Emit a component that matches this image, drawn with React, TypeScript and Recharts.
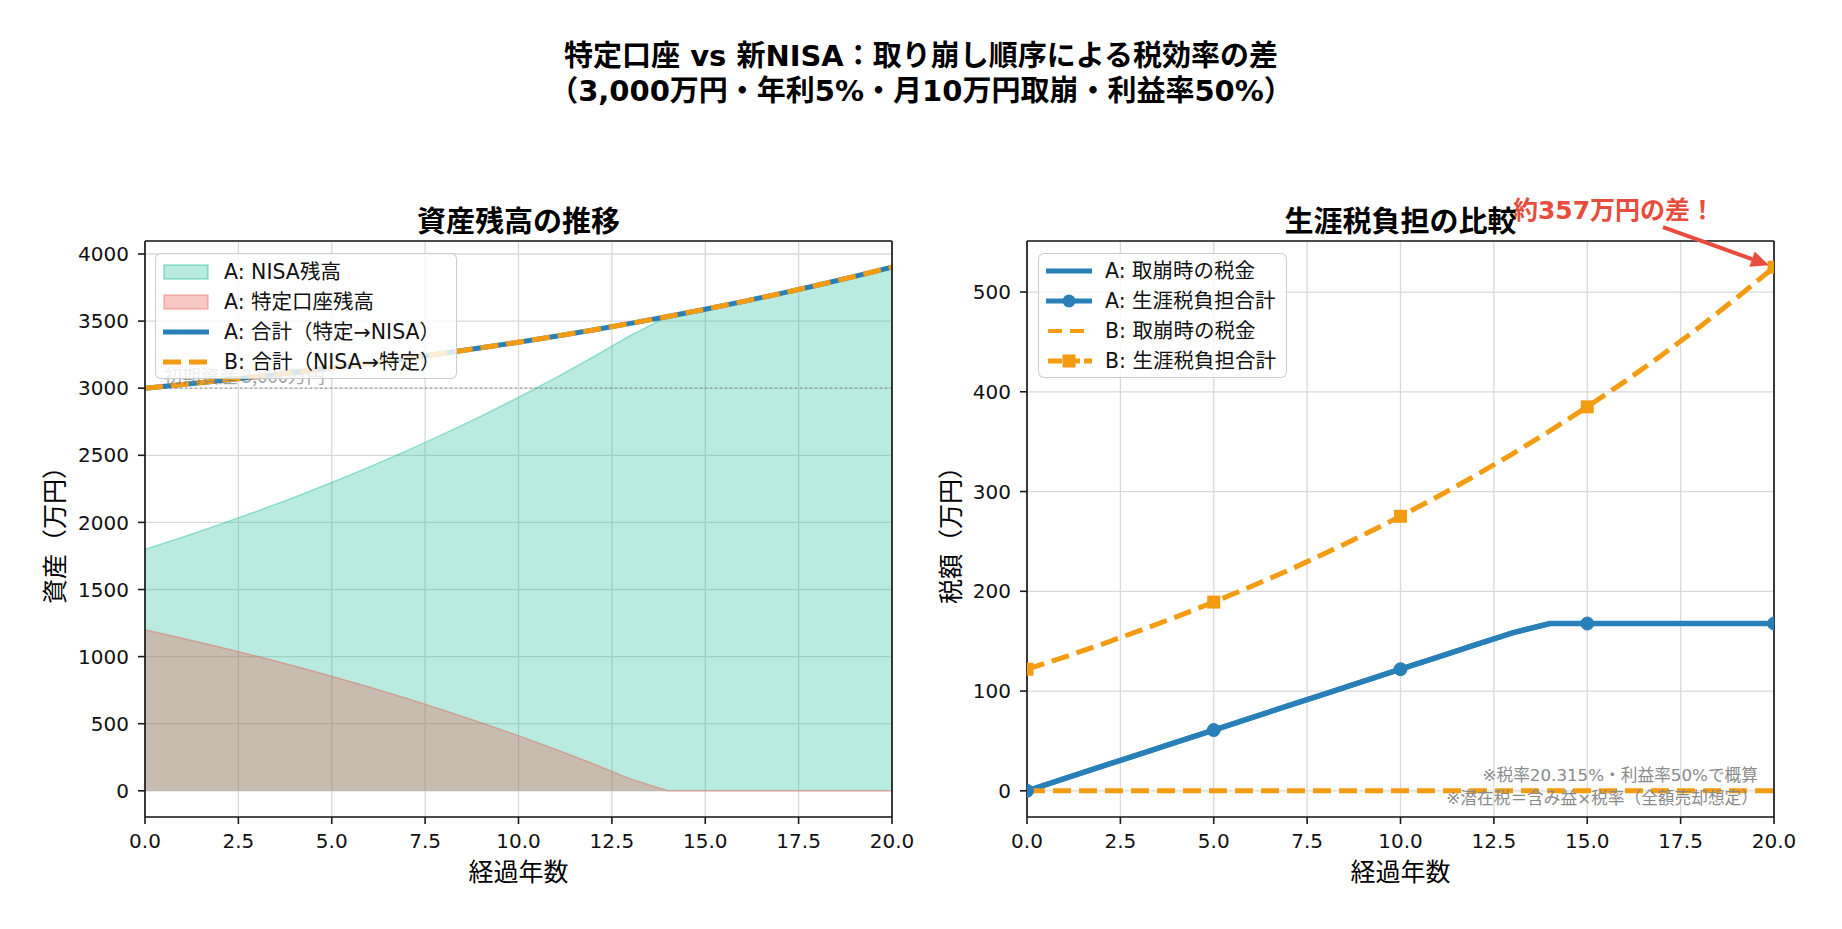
import React from 'react';
import {
  ComposedChart,
  Line,
  Area,
  XAxis,
  YAxis,
  CartesianGrid,
  ReferenceLine,
  ReferenceDot,
} from 'recharts';

// ---------- data ----------
const years = [0, 1, 2, 3, 4, 5, 6, 7, 8, 9, 10, 11, 12, 13, 14, 15, 16, 17, 18, 19, 20];
const totalA = [3000, 3027.3, 3055.9, 3086.0, 3117.5, 3150.7, 3185.5, 3222.0, 3260.4, 3300.7, 3343.0, 3387.4, 3434.1, 3483.0, 3534.4, 3588.4, 3645.2, 3704.7, 3767.2, 3832.8, 3901.7];
const totalB = [3000, 3027.3, 3055.9, 3086.0, 3117.5, 3150.7, 3185.5, 3222.0, 3260.4, 3300.7, 3343.0, 3387.4, 3434.1, 3483.0, 3534.4, 3588.4, 3645.2, 3704.7, 3767.2, 3832.8, 3901.7];
const nisaA = [1800, 1890, 1984.5, 2083.7, 2187.9, 2297.3, 2412.2, 2532.8, 2659.5, 2792.4, 2932.0, 3078.6, 3232.6, 3394.1, 3534.4, 3588.4, 3645.2, 3704.7, 3767.2, 3832.8, 3901.7];
const tokuteiA = [1200, 1137.3, 1071.4, 1002.3, 929.6, 853.3, 773.3, 689.3, 600.9, 508.3, 411.0, 308.9, 201.4, 88.9, 0, 0, 0, 0, 0, 0, 0];
const withdrawTaxA = [0, 12.2, 24.4, 36.6, 48.8, 60.9, 73.1, 85.3, 97.5, 109.7, 121.9, 134.1, 146.3, 158.4, 167.7, 167.7, 167.7, 167.7, 167.7, 167.7, 167.7];
const lifetimeTaxA = [0, 12.2, 24.4, 36.6, 48.8, 60.9, 73.1, 85.3, 97.5, 109.7, 121.9, 134.1, 146.3, 158.4, 167.7, 167.7, 167.7, 167.7, 167.7, 167.7, 167.7];
const withdrawTaxB = [0, 0, 0, 0, 0, 0, 0, 0, 0, 0, 0, 0, 0, 0, 0, 0, 0, 0, 0, 0, 0];
const lifetimeTaxB = [121.9, 134.1, 146.9, 160.3, 174.4, 189.2, 204.8, 221.1, 238.3, 256.3, 275.2, 295.0, 315.9, 337.8, 360.8, 384.9, 410.2, 436.8, 464.8, 494.1, 524.9];

const xTicks = [0, 2.5, 5, 7.5, 10, 12.5, 15, 17.5, 20];
const leftYTicks = [0, 500, 1000, 1500, 2000, 2500, 3000, 3500, 4000];
const rightYTicks = [0, 100, 200, 300, 400, 500];
const leftYDomain = [-195.1, 4096.8];
const rightYDomain = [-26.25, 551.15];
const initialAsset = 3000;
const initialAssetLabel = '初期資産 3,000万円';
const diffLabel = '約357万円の差！';

const titleLines = [
  '特定口座 vs 新NISA：取り崩し順序による税効率の差',
  '（3,000万円・年利5%・月10万円取崩・利益率50%）',
];
const leftTitle = '資産残高の推移';
const rightTitle = '生涯税負担の比較';
const xLabel = '経過年数';
const leftYLabel = '資産（万円）';
const rightYLabel = '税額（万円）';
const leftLegend = ['A: NISA残高', 'A: 特定口座残高', 'A: 合計（特定→NISA）', 'B: 合計（NISA→特定）'];
const rightLegend = ['A: 取崩時の税金', 'A: 生涯税負担合計', 'B: 取崩時の税金', 'B: 生涯税負担合計'];
const notes = ['※税率20.315%・利益率50%で概算', '※潜在税＝含み益×税率（全額売却想定）'];

const leftData = years.map((y, i) => ({
  year: y,
  totalA: totalA[i],
  totalB: totalB[i],
  nisaA: nisaA[i],
  tokuteiA: tokuteiA[i],
}));
const rightData = years.map((y, i) => ({
  year: y,
  withdrawTaxA: withdrawTaxA[i],
  lifetimeTaxA: lifetimeTaxA[i],
  withdrawTaxB: withdrawTaxB[i],
  lifetimeTaxB: lifetimeTaxB[i],
}));

// ---------- styles ----------
const BLUE = '#2980b9';
const ORANGE = '#f39c12';
const TEAL = '#1abc9c';
const RED = '#e74c3c';
const FONT = '"DejaVu Sans", "Noto Sans CJK JP", sans-serif';
const CJK = '"Noto Sans CJK JP", "DejaVu Sans", sans-serif';
const AXIS = '#1a1a1a';
const DASH = '18 8';

const tickStyle = { fontSize: 20, fill: '#111', fontFamily: FONT };

const circleDot = (props: any) => {
  const { cx, cy, index } = props;
  if (years[index] % 5 !== 0) return <g key={`c${index}`} />;
  return <circle key={`c${index}`} cx={cx} cy={cy} r={6.5} fill={BLUE} stroke={BLUE} />;
};
const squareDot = (props: any) => {
  const { cx, cy, index } = props;
  if (years[index] % 5 !== 0) return <g key={`s${index}`} />;
  return <rect key={`s${index}`} x={cx - 6.5} y={cy - 6.5} width={13} height={13} fill={ORANGE} />;
};

const InitialText = (props: any) => {
  const { cx, cy } = props;
  return (
    <text x={cx} y={cy - 5} fontSize={18.5} fill="#808080" fillOpacity={0.75} fontFamily={CJK}>
      {initialAssetLabel}
    </text>
  );
};

const DiffArrow = (props: any) => {
  const { cx, cy } = props;
  const sx = cx - 111;
  const sy = cy - 40;
  const tx = cx - 5;
  const ty = cy - 2;
  const ang = Math.atan2(ty - sy, tx - sx);
  const L = 18;
  const W = 8;
  const bx = tx - L * Math.cos(ang);
  const by = ty - L * Math.sin(ang);
  const px = -Math.sin(ang) * W;
  const py = Math.cos(ang) * W;
  return (
    <g>
      <line x1={sx} y1={sy} x2={bx} y2={by} stroke={RED} strokeWidth={4} />
      <polygon points={`${tx},${ty} ${bx + px},${by + py} ${bx - px},${by - py}`} fill={RED} />
      <text
        x={cx - 160}
        y={cy - 57}
        textAnchor="middle"
        dominantBaseline="central"
        fontSize={25}
        fontWeight="bold"
        fill={RED}
        fontFamily={FONT}
      >
        {diffLabel}
      </text>
    </g>
  );
};

const Handle = ({ kind }: { kind: string }) => {
  const w = 46;
  const h = 22;
  const m = h / 2;
  let el: any = null;
  if (kind === 'teal')
    el = <rect x={1} y={4} width={w - 2} height={14} fill={TEAL} fillOpacity={0.3} stroke={TEAL} strokeOpacity={0.45} strokeWidth={1.5} />;
  else if (kind === 'red')
    el = <rect x={1} y={4} width={w - 2} height={14} fill={RED} fillOpacity={0.3} stroke={RED} strokeOpacity={0.35} strokeWidth={1.5} />;
  else if (kind === 'blue') el = <line x1={0} y1={m} x2={w} y2={m} stroke={BLUE} strokeWidth={5} />;
  else if (kind === 'orangeDash') el = <line x1={0} y1={m} x2={w} y2={m} stroke={ORANGE} strokeWidth={5} strokeDasharray={DASH} />;
  else if (kind === 'orangeDashThin') el = <line x1={2} y1={m} x2={w} y2={m} stroke={ORANGE} strokeWidth={4} strokeDasharray="14 8" />;
  else if (kind === 'blueDot')
    el = (
      <g>
        <line x1={0} y1={m} x2={w} y2={m} stroke={BLUE} strokeWidth={5} />
        <circle cx={w / 2} cy={m} r={6.5} fill={BLUE} />
      </g>
    );
  else if (kind === 'orangeSq')
    el = (
      <g>
        <line x1={2} y1={m} x2={w} y2={m} stroke={ORANGE} strokeWidth={5} strokeDasharray="14 4" />
        <rect x={w / 2 - 6.5} y={m - 6.5} width={13} height={13} fill={ORANGE} />
      </g>
    );
  return (
    <svg width={w} height={h} style={{ display: 'block' }}>
      {el}
    </svg>
  );
};

const LegendBox = ({
  left,
  top,
  width,
  height,
  first,
  labels,
  kinds,
  textLeft,
}: any) => (
  <div
    style={{
      position: 'absolute',
      left,
      top,
      width,
      height,
      boxSizing: 'border-box',
      border: '1.5px solid rgba(200,200,200,0.9)',
      borderRadius: 6,
      background: 'rgba(255,255,255,0.8)',
    }}
  >
    {labels.map((lab: string, i: number) => (
      <div
        key={lab}
        style={{
          position: 'absolute',
          left: 0,
          top: first + i * 30 - 15,
          height: 30,
          width: '100%',
          display: 'flex',
          alignItems: 'center',
        }}
      >
        <div style={{ position: 'absolute', left: 7, top: 4 }}>
          <Handle kind={kinds[i]} />
        </div>
        <div
          style={{
            position: 'absolute',
            left: textLeft,
            top: 0,
            lineHeight: '30px',
            fontSize: 20.5,
            fontFamily: FONT,
            color: '#111',
            whiteSpace: 'nowrap',
          }}
        >
          {lab}
        </div>
      </div>
    ))}
  </div>
);

const abs = (extra: any) => ({ position: 'absolute' as const, whiteSpace: 'nowrap' as const, ...extra });

export default function App() {
  return (
    <div style={{ position: 'absolute', left: 0, top: 0, width: 1842, height: 929, background: '#fff', overflow: 'hidden' }}>
      {/* main title */}
      <div
        style={abs({
          left: 0,
          top: 39,
          width: 1842,
          textAlign: 'center',
          fontSize: 29,
          lineHeight: '35px',
          fontWeight: 'bold',
          fontFamily: FONT,
          color: '#000',
        })}
      >
        {titleLines.map((t) => (
          <div key={t}>{t}</div>
        ))}
      </div>

      {/* left chart */}
      <div style={{ position: 'absolute', left: 0, top: 0 }}>
        <ComposedChart width={950} height={929} data={leftData} margin={{ top: 241, right: 58, bottom: 72, left: 85 }}>
          <CartesianGrid stroke="#d9d9d9" strokeWidth={1.3} />
          <XAxis
            dataKey="year"
            type="number"
            domain={[0, 20]}
            ticks={xTicks}
            interval={0}
            allowDataOverflow
            tickFormatter={(v: number) => v.toFixed(1)}
            height={40}
            tick={tickStyle}
            tickSize={7}
            tickMargin={10}
            axisLine={{ stroke: AXIS, strokeWidth: 1.7 }}
            tickLine={{ stroke: AXIS, strokeWidth: 1.6 }}
          />
          <YAxis
            type="number"
            domain={leftYDomain}
            ticks={leftYTicks}
            interval={0}
            allowDataOverflow
            width={60}
            tick={tickStyle}
            tickSize={7}
            tickMargin={9}
            axisLine={{ stroke: AXIS, strokeWidth: 1.7 }}
            tickLine={{ stroke: AXIS, strokeWidth: 1.6 }}
          />
          <Area
            type="linear"
            dataKey="nisaA"
            fill={TEAL}
            fillOpacity={0.3}
            stroke={TEAL}
            strokeOpacity={0.4}
            strokeWidth={1.5}
            isAnimationActive={false}
          />
          <Area
            type="linear"
            dataKey="tokuteiA"
            fill={RED}
            fillOpacity={0.3}
            stroke={RED}
            strokeOpacity={0.35}
            strokeWidth={1.5}
            isAnimationActive={false}
          />
          <ReferenceLine y={initialAsset} stroke="#808080" strokeOpacity={0.6} strokeDasharray="2 3" strokeWidth={1.5} />
          <ReferenceDot x={0.5} y={initialAsset} ifOverflow="visible" shape={InitialText} />
          <Line type="linear" dataKey="totalA" stroke={BLUE} strokeWidth={5} dot={false} isAnimationActive={false} />
          <Line
            type="linear"
            dataKey="totalB"
            stroke={ORANGE}
            strokeWidth={5}
            strokeDasharray={DASH}
            dot={false}
            isAnimationActive={false}
          />
          <ReferenceLine y={leftYDomain[1]} stroke={AXIS} strokeWidth={1.7} ifOverflow="visible" />
          <ReferenceLine x={20} stroke={AXIS} strokeWidth={1.7} ifOverflow="visible" />
        </ComposedChart>
      </div>

      {/* right chart */}
      <div style={{ position: 'absolute', left: 950, top: 0 }}>
        <ComposedChart width={892} height={929} data={rightData} margin={{ top: 241, right: 68, bottom: 72, left: 17 }}>
          <CartesianGrid stroke="#d9d9d9" strokeWidth={1.3} />
          <XAxis
            dataKey="year"
            type="number"
            domain={[0, 20]}
            ticks={xTicks}
            interval={0}
            allowDataOverflow
            tickFormatter={(v: number) => v.toFixed(1)}
            height={40}
            tick={tickStyle}
            tickSize={7}
            tickMargin={10}
            axisLine={{ stroke: AXIS, strokeWidth: 1.7 }}
            tickLine={{ stroke: AXIS, strokeWidth: 1.6 }}
          />
          <YAxis
            type="number"
            domain={rightYDomain}
            ticks={rightYTicks}
            interval={0}
            allowDataOverflow
            width={60}
            tick={tickStyle}
            tickSize={7}
            tickMargin={9}
            axisLine={{ stroke: AXIS, strokeWidth: 1.7 }}
            tickLine={{ stroke: AXIS, strokeWidth: 1.6 }}
          />
          <Line type="linear" dataKey="withdrawTaxA" stroke={BLUE} strokeWidth={5} dot={false} isAnimationActive={false} />
          <Line type="linear" dataKey="lifetimeTaxA" stroke={BLUE} strokeWidth={5.5} dot={circleDot} isAnimationActive={false} />
          <Line
            type="linear"
            dataKey="withdrawTaxB"
            stroke={ORANGE}
            strokeWidth={5}
            strokeDasharray={DASH}
            dot={false}
            isAnimationActive={false}
          />
          <Line
            type="linear"
            dataKey="lifetimeTaxB"
            stroke={ORANGE}
            strokeWidth={5}
            strokeDasharray={DASH}
            dot={squareDot}
            isAnimationActive={false}
          />
          <ReferenceLine y={rightYDomain[1]} stroke={AXIS} strokeWidth={1.7} ifOverflow="visible" />
          <ReferenceLine x={20} stroke={AXIS} strokeWidth={1.7} ifOverflow="visible" />
          <ReferenceDot x={20} y={lifetimeTaxB[20]} ifOverflow="visible" shape={DiffArrow} />
        </ComposedChart>
      </div>

      {/* subplot titles */}
      <div style={abs({ left: 518.5, top: 218.5, transform: 'translate(-50%,-50%)', fontSize: 29, fontWeight: 'bold', fontFamily: FONT })}>
        {leftTitle}
      </div>
      <div style={abs({ left: 1400.5, top: 218.5, transform: 'translate(-50%,-50%)', fontSize: 29, fontWeight: 'bold', fontFamily: FONT })}>
        {rightTitle}
      </div>

      {/* axis labels */}
      <div style={abs({ left: 518.5, top: 870, transform: 'translate(-50%,-50%)', fontSize: 25, fontFamily: FONT })}>{xLabel}</div>
      <div style={abs({ left: 1400.5, top: 870, transform: 'translate(-50%,-50%)', fontSize: 25, fontFamily: FONT })}>{xLabel}</div>
      <div style={abs({ left: 53, top: 529, transform: 'translate(-50%,-50%) rotate(-90deg)', fontSize: 25, fontFamily: FONT })}>
        {leftYLabel}
      </div>
      <div style={abs({ left: 949, top: 529, transform: 'translate(-50%,-50%) rotate(-90deg)', fontSize: 25, fontFamily: FONT })}>
        {rightYLabel}
      </div>

      {/* notes */}
      <div style={abs({ right: 1842 - 1758, top: 764, textAlign: 'right', fontSize: 16.7, lineHeight: '23px', color: '#8a8a8a', fontFamily: FONT })}>
        {notes.map((n) => (
          <div key={n}>{n}</div>
        ))}
      </div>

      {/* legends */}
      <LegendBox
        left={155}
        top={253}
        width={302}
        height={126}
        first={18}
        labels={leftLegend}
        kinds={['teal', 'red', 'blue', 'orangeDash']}
        textLeft={68}
      />
      <LegendBox
        left={1038}
        top={253}
        width={249}
        height={125}
        first={17}
        labels={rightLegend}
        kinds={['blue', 'blueDot', 'orangeDashThin', 'orangeSq']}
        textLeft={66}
      />
    </div>
  );
}
